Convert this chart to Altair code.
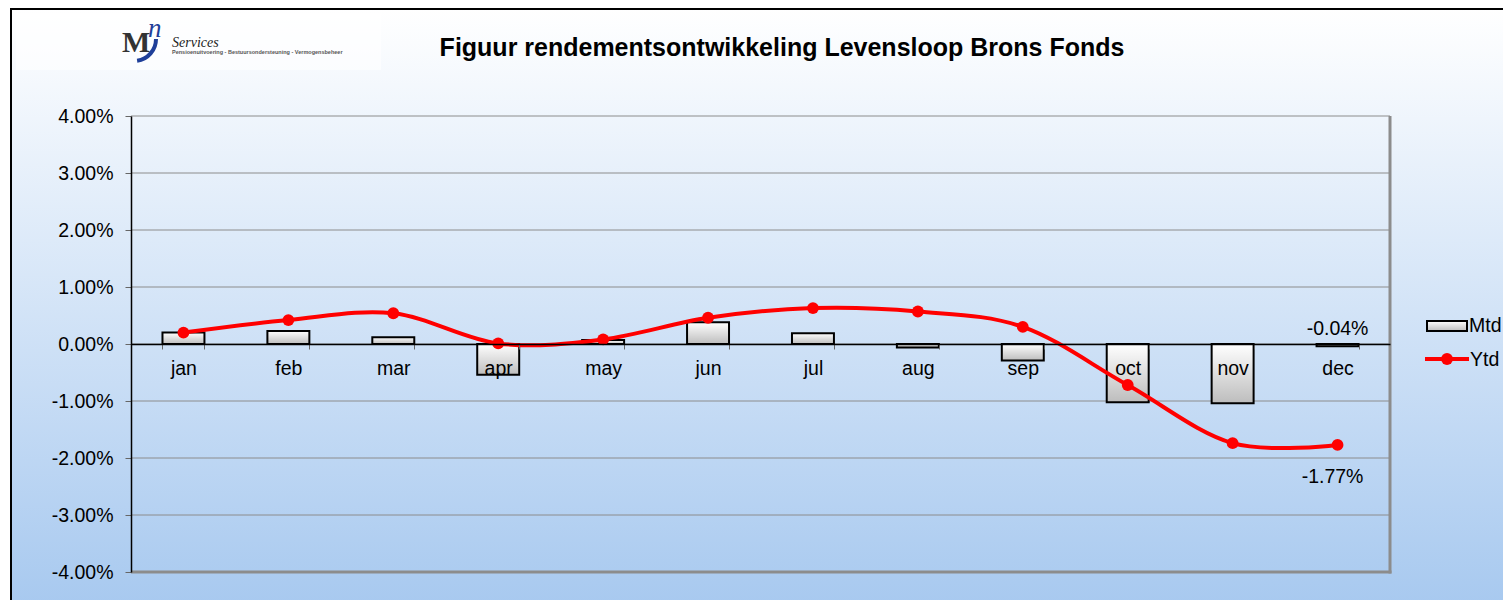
import altair as alt
import pandas as pd

# ---- data ----
months = ["jan", "feb", "mar", "apr", "may", "jun", "jul", "aug", "sep", "oct", "nov", "dec"]
mtd = [0.20, 0.23, 0.12, -0.54, 0.07, 0.38, 0.19, -0.06, -0.29, -1.02, -1.04, -0.04]
ytd = [0.20, 0.42, 0.54, 0.01, 0.08, 0.46, 0.63, 0.57, 0.30, -0.72, -1.74, -1.77]
y_ticks = [-4, -3, -2, -1, 0, 1, 2, 3, 4]
series = ["Mtd", "Ytd"]
title_text = "Figuur rendementsontwikkeling Levensloop Brons Fonds"
label_month = "dec"

W, H = 1259, 456
FONT = "Liberation Sans"
FS = 19.5
MINUS = "\u2212"

df = pd.DataFrame({"month": months, "mtd": mtd, "ytd": ytd})
one = pd.DataFrame({"a": [0]})
grid_df = pd.DataFrame({"y": y_ticks})

x_enc = alt.X("month:N", sort=months, scale=alt.Scale(paddingInner=0.6, paddingOuter=0.3),
              axis=alt.Axis(title=None, offset=-H / 2, domainColor="black", domainWidth=1.5,
                            tickColor="#666666", tickSize=5, tickBand="extent",
                            labelFont=FONT, labelFontSize=FS, labelColor="black",
                            labelPadding=10, labelAngle=0, zindex=1))
y_scale = alt.Scale(domain=[-4, 4], nice=False)
y_axis = alt.Axis(title=None, values=y_ticks, grid=False, domainColor="black", domainWidth=1.5,
                  tickColor="#666666", tickSize=6, labelFont=FONT, labelFontSize=FS,
                  labelColor="black", labelPadding=12, zindex=1,
                  labelExpr=f"replace(format(datum.value / 100, '.2%'), '{MINUS}', '-')")

bg_grad = alt.Gradient(gradient="linear", x1=0, y1=0, x2=0, y2=1,
                       stops=[alt.GradientStop(color="#ffffff", offset=0),
                              alt.GradientStop(color="#a6c8ef", offset=1)])
bar_grad = alt.Gradient(gradient="linear", x1=0, y1=0, x2=0, y2=1,
                        stops=[alt.GradientStop(color="#ffffff", offset=0),
                               alt.GradientStop(color="#bdbdbd", offset=1)])

background = alt.Chart(one).mark_rect(fill=bg_grad, stroke="black", strokeWidth=2).encode(
    x=alt.value(-120), x2=alt.value(1400), y=alt.value(-107), y2=alt.value(500))

logo_box = alt.Chart(one).mark_rect(fill="white", opacity=0.6).encode(
    x=alt.value(-115), x2=alt.value(250), y=alt.value(-103), y2=alt.value(-46))
logo_m = alt.Chart(one).mark_text(text="M", font="Liberation Serif", fontWeight="bold",
                                  fontSize=30, color="#333333", align="left", baseline="alphabetic").encode(
    x=alt.value(-9), y=alt.value(-64))
logo_n = alt.Chart(one).mark_text(text="n", font="Liberation Serif", fontStyle="italic",
                                  fontSize=27, color="#1f3f99", align="left", baseline="alphabetic").encode(
    x=alt.value(17), y=alt.value(-79))
logo_arc = alt.Chart(one).mark_arc(color="#1f3f99", radius=24, radius2=20,
                                   theta=1.57, theta2=3.0).encode(
    x=alt.value(3), y=alt.value(-77))
logo_s = alt.Chart(one).mark_text(text="Services", font="Liberation Serif", fontStyle="italic",
                                  fontSize=14, color="#222222", align="left", baseline="alphabetic").encode(
    x=alt.value(41), y=alt.value(-69))
logo_t = alt.Chart(one).mark_text(text="Pensioenuitvoering - Bestuursondersteuning - Vermogensbeheer",
                                  font=FONT, fontWeight="bold", fontSize=5.5, color="#555555",
                                  align="left", baseline="alphabetic").encode(
    x=alt.value(41), y=alt.value(-62))

grid = alt.Chart(grid_df).mark_rule(color="#8c8c8c", strokeWidth=1).encode(
    y=alt.Y("y:Q", scale=y_scale, axis=y_axis))

border_r = alt.Chart(one).mark_rule(color="#8c8c8c", strokeWidth=3).encode(
    x=alt.value(W), y=alt.value(0), y2=alt.value(H + 1.5))
border_b = alt.Chart(one).mark_rule(color="#8c8c8c", strokeWidth=3).encode(
    x=alt.value(0), x2=alt.value(W + 1.5), y=alt.value(H))

bars = alt.Chart(df).mark_bar(fill=bar_grad, stroke="black", strokeWidth=2).encode(
    x=x_enc, y=alt.Y("mtd:Q", scale=y_scale, axis=y_axis), y2=alt.datum(0))

line = alt.Chart(df).mark_line(color="#ff0000", strokeWidth=4, interpolate="cardinal").encode(
    x=alt.X("month:N", sort=months), y=alt.Y("ytd:Q", scale=y_scale))
points = alt.Chart(df).mark_point(filled=True, color="#ff0000", size=140, opacity=1).encode(
    x=alt.X("month:N", sort=months), y=alt.Y("ytd:Q", scale=y_scale))

lab_df = df[df["month"] == label_month]
mtd_lab = alt.Chart(lab_df).mark_text(font=FONT, fontSize=FS, color="black", dy=-17).encode(
    x=alt.X("month:N", sort=months), y=alt.Y("mtd:Q", scale=y_scale),
    text=alt.Text("mtd_f:N")).transform_calculate(
    mtd_f=f"replace(format(datum.mtd / 100, '.2%'), '{MINUS}', '-')")
ytd_lab = alt.Chart(lab_df).mark_text(font=FONT, fontSize=FS, color="black", dy=32, dx=-5).encode(
    x=alt.X("month:N", sort=months), y=alt.Y("ytd:Q", scale=y_scale),
    text=alt.Text("ytd_f:N")).transform_calculate(
    ytd_f=f"replace(format(datum.ytd / 100, '.2%'), '{MINUS}', '-')")

# legend
leg_bar = alt.Chart(one).mark_rect(fill=bar_grad, stroke="black", strokeWidth=2).encode(
    x=alt.value(1296), x2=alt.value(1336), y=alt.value(205), y2=alt.value(215))
leg_line = alt.Chart(one).mark_rule(color="#ff0000", strokeWidth=4).encode(
    x=alt.value(1294), x2=alt.value(1338), y=alt.value(243))
leg_pt = alt.Chart(one).mark_point(filled=True, color="#ff0000", size=140, opacity=1).encode(
    x=alt.value(1316), y=alt.value(243))
leg_t1 = alt.Chart(one).mark_text(text=series[0], font=FONT, fontSize=FS, align="left",
                                  baseline="middle", color="black").encode(
    x=alt.value(1338), y=alt.value(210))
leg_t2 = alt.Chart(one).mark_text(text=series[1], font=FONT, fontSize=FS, align="left",
                                  baseline="middle", color="black").encode(
    x=alt.value(1339), y=alt.value(244))

title = alt.Chart(one).mark_text(text=title_text, font=FONT, fontWeight="bold", fontSize=25,
                                 color="black", baseline="middle").encode(
    x=alt.value(651), y=alt.value(-68))

chart = alt.layer(
    background, logo_box, logo_arc, logo_m, logo_n, logo_s, logo_t,
    grid, border_r, border_b, bars, line, points, mtd_lab, ytd_lab,
    leg_bar, leg_line, leg_pt, leg_t1, leg_t2, title
).properties(
    width=W, height=H,
    autosize=alt.AutoSizeParams(type="none"),
    padding={"left": 123, "top": 108, "right": 113, "bottom": 28},
    background="white"
).configure_view(stroke=None)

chart.save("out.html", embed_options={"renderer": "svg", "actions": False})
